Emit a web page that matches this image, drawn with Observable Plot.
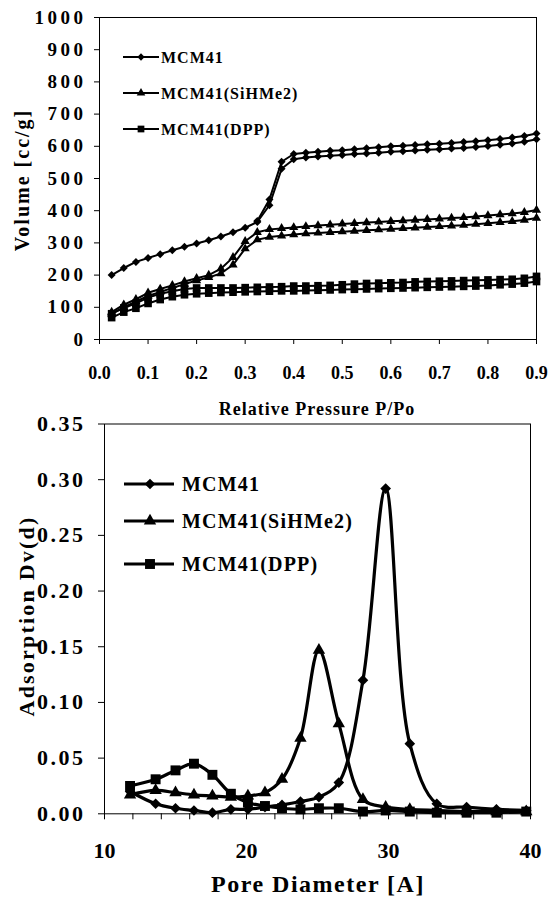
<!DOCTYPE html>
<html><head><meta charset="utf-8">
<script src="https://cdn.jsdelivr.net/npm/d3@7"></script>
<script src="https://cdn.jsdelivr.net/npm/@observablehq/plot@0.6"></script>
<style>
body{margin:0;background:#fff;}
#wrap{position:relative;width:548px;height:905px;overflow:hidden;font-family:"Liberation Serif","Times New Roman",serif;font-weight:bold;color:#000;}
.chart{position:absolute;left:0;}
.title{position:absolute;white-space:nowrap;transform:translate(-50%,-50%);}
.vtitle{position:absolute;white-space:nowrap;transform:translate(-50%,-50%) rotate(-90deg);}
#top g[aria-label="y-axis tick label"] text{letter-spacing:3.5px;font-size:19px;}
#top g[aria-label="x-axis tick label"] text{font-size:18px;}
#bot g[aria-label="y-axis tick label"] text{letter-spacing:2.5px;}
.legend{position:absolute;left:0;top:0;overflow:visible;}
</style></head><body>
<div id="wrap">
  <div id="top" class="chart" style="top:0"></div>
  <div id="bot" class="chart" style="top:405px"></div>
</div>
<script>
// ---------- Data: top chart (N2 isotherms) ----------
const isoP = [0.025,0.05,0.075,0.1,0.125,0.15,0.175,0.2,0.225,0.25,0.275,0.3,0.325,0.35,0.375,0.4,0.425,0.45,0.475,0.5,0.525,0.55,0.575,0.6,0.625,0.65,0.675,0.7,0.725,0.75,0.775,0.8,0.825,0.85,0.875,0.9];
const mcmAds = [200,222,241,253,265,277,288,298,308,320,333,347,365,417,530,560,565,568,571,573,576,578,580,583,585,587,589,591,593,595,598,601,605,609,614,622];
const mcmDes = [null,null,null,null,null,null,null,null,null,null,null,null,368,435,552,576,580,583,586,588,591,594,597,600,602,604,606,608,610,613,616,619,623,627,632,640];
const siAds = [80,100,118,135,148,160,172,183,193,205,232,282,310,318,322,326,329,331,333,335,337,339,341,343,345,347,349,351,353,355,358,361,364,367,371,377];
const siDes = [85,108,125,145,157,168,180,190,200,220,255,305,333,342,345,348,351,354,356,359,361,363,365,367,369,371,373,375,377,379,382,385,388,391,395,402];
const dppAds = [68,85,97,112,124,133,139,142,144,146,147,148,149,150,151,151,152,153,154,155,156,157,158,159,160,161,162,163,164,165,166,168,170,172,175,180];
const dppDes = [80,98,112,130,142,150,157,160,160,160,160,161,162,163,164,166,166,167,168,170,172,174,175,176,177,179,180,181,182,183,184,185,186,187,190,196];
const topXTicks = [0,0.1,0.2,0.3,0.4,0.5,0.6,0.7,0.8,0.9];
const topYTicks = [0,100,200,300,400,500,600,700,800,900,1000];

// ---------- Data: bottom chart (pore size distribution) ----------
const poreD = [11.8,13.6,15.0,16.3,17.6,18.9,20.1,21.3,22.5,23.8,25.1,26.5,28.2,29.8,31.5,33.4,35.5,37.6,39.7];
const psdMCM = [0.020,0.009,0.005,0.003,0.001,0.004,0.004,0.006,0.008,0.011,0.015,0.028,0.120,0.292,0.063,0.009,0.006,0.004,0.003];
const psdSi = [0.017,0.021,0.019,0.017,0.016,0.015,0.016,0.019,0.031,0.068,0.147,0.081,0.013,0.006,0.004,0.003,0.002,0.002,0.002];
const psdDPP = [0.025,0.031,0.039,0.045,0.035,0.018,0.010,0.007,0.005,0.004,0.005,0.005,0.002,0.003,0.002,0.001,0.001,0.001,0.002];
const botXTicks = [10,12,14,16,18,20,22,24,26,28,30,32,34,36,38,40];
const botXLabels = [10,20,30,40];
const botYTicks = [0,0.05,0.10,0.15,0.20,0.25,0.30,0.35];

const seriesNames = ["MCM41","MCM41(SiHMe2)","MCM41(DPP)"];
const seriesSymbols = ["diamond2","triangle","square"];

// ---------- helpers ----------
const pts = (xs, ys) => xs.map((x,i)=>({x, y: ys[i]})).filter(d => d.y != null);
const symMap = {diamond2: d3.symbolDiamond2, triangle: d3.symbolTriangle, square: d3.symbolSquare};

// ---------- top chart ----------
const topSeries = [
  {d: pts(isoP, mcmAds), s: "diamond2", r: 3.6},
  {d: pts(isoP, mcmDes), s: "diamond2", r: 3.6},
  {d: pts(isoP, siAds), s: "triangle", r: 3.4},
  {d: pts(isoP, siDes), s: "triangle", r: 3.4},
  {d: pts(isoP, dppAds), s: "square", r: 4.3},
  {d: pts(isoP, dppDes), s: "square", r: 4.3}
];
const topPlot = Plot.plot({
  width: 548, height: 420,
  marginLeft: 99, marginRight: 12, marginTop: 17, marginBottom: 81,
  x: {domain: [0, 0.9]},
  y: {domain: [0, 1000]},
  style: {background: "transparent", overflow: "visible", fontFamily: "'Liberation Serif', serif", fontWeight: "bold", fontSize: "19px", color: "black"},
  marks: [
    Plot.axisX({ticks: topXTicks, tickFormat: d => d.toFixed(1), tickSize: 5, tickPadding: 22, label: null, strokeWidth: 1}),
    Plot.axisY({ticks: topYTicks, tickFormat: d => String(d), tickSize: 5, tickPadding: 8, label: null, strokeWidth: 1}),
    ...topSeries.map(s => Plot.line(s.d, {x: "x", y: "y", stroke: "black", strokeWidth: 2})),
    ...topSeries.map(s => Plot.dot(s.d, {x: "x", y: "y", symbol: () => s.s, r: s.r, fill: "black", stroke: "none"})),
    Plot.frame({stroke: "black", strokeWidth: 1})
  ]
});
document.getElementById("top").appendChild(topPlot);

// ---------- bottom chart ----------
const botSeries = [
  {d: pts(poreD, psdMCM), s: "diamond2", r: 4.8},
  {d: pts(poreD, psdSi), s: "triangle", r: 4.6},
  {d: pts(poreD, psdDPP), s: "square", r: 5.6}
];
const botPlot = Plot.plot({
  width: 548, height: 500,
  marginLeft: 104, marginRight: 18, marginTop: 18.5, marginBottom: 91.7,
  x: {domain: [10, 40]},
  y: {domain: [0, 0.35]},
  style: {background: "transparent", overflow: "visible", fontFamily: "'Liberation Serif', serif", fontWeight: "bold", fontSize: "22px", color: "black"},
  marks: [
    Plot.axisX({ticks: botXTicks, tickFormat: d => botXLabels.includes(d) ? String(d) : "", tickSize: 6, tickPadding: 23, label: null}),
    Plot.axisY({ticks: botYTicks, tickFormat: d => d.toFixed(2), tickSize: 6, tickPadding: 13, label: null}),
    ...botSeries.map(s => Plot.line(s.d, {x: "x", y: "y", stroke: "black", strokeWidth: 3.2, curve: "catmull-rom"})),
    ...botSeries.map(s => Plot.dot(s.d, {x: "x", y: "y", symbol: () => s.s, r: s.r, fill: "black", stroke: "none"})),
    Plot.frame({stroke: "black", strokeWidth: 1})
  ]
});
document.getElementById("bot").appendChild(botPlot);

// ---------- titles ----------
const wrap = document.getElementById("wrap");
function addTitle(text, x, y, size, spacing, vertical) {
  const el = document.createElement("div");
  el.className = vertical ? "vtitle" : "title";
  el.textContent = text;
  el.style.left = x + "px"; el.style.top = y + "px";
  el.style.fontSize = size + "px"; el.style.letterSpacing = spacing + "px";
  wrap.appendChild(el);
}
addTitle("Relative Pressure P/Po", 317, 409, 18, 1, false);
addTitle("Volume [cc/g]", 22, 180, 20, 2, true);
addTitle("Pore Diameter [A]", 318, 884, 24, 1.5, false);
addTitle("Adsorption Dv(d)", 27, 616, 22, 2.2, true);

// ---------- legends ----------
function addLegend(x0, x1, xs, tx, rows, size, spacing, lw, rr) {
  const svg = d3.select(wrap).append("svg").attr("class", "legend").attr("width", 548).attr("height", 905);
  rows.forEach((cy, i) => {
    const g = svg.append("g");
    g.append("line").attr("x1", x0).attr("x2", x1).attr("y1", cy).attr("y2", cy).attr("stroke", "black").attr("stroke-width", lw);
    const r = rr[i];
    g.append("path").attr("d", d3.symbol(symMap[seriesSymbols[i]], r * r * Math.PI)()).attr("transform", `translate(${xs},${cy})`).attr("fill", "black");
    g.append("text").attr("x", tx).attr("y", cy).attr("dy", "0.35em").attr("font-family", "'Liberation Serif', serif").attr("font-weight", "bold").attr("font-size", size).attr("letter-spacing", spacing).text(seriesNames[i]);
  });
}
addLegend(123, 159, 141, 161, [57, 93, 129], 16, 1, 2, [3.3, 3.2, 3.8]);
addLegend(124, 174, 150, 182, [484, 521, 564], 20, 1.2, 3, [4.8, 4.6, 5.6]);
</script>
</body></html>
